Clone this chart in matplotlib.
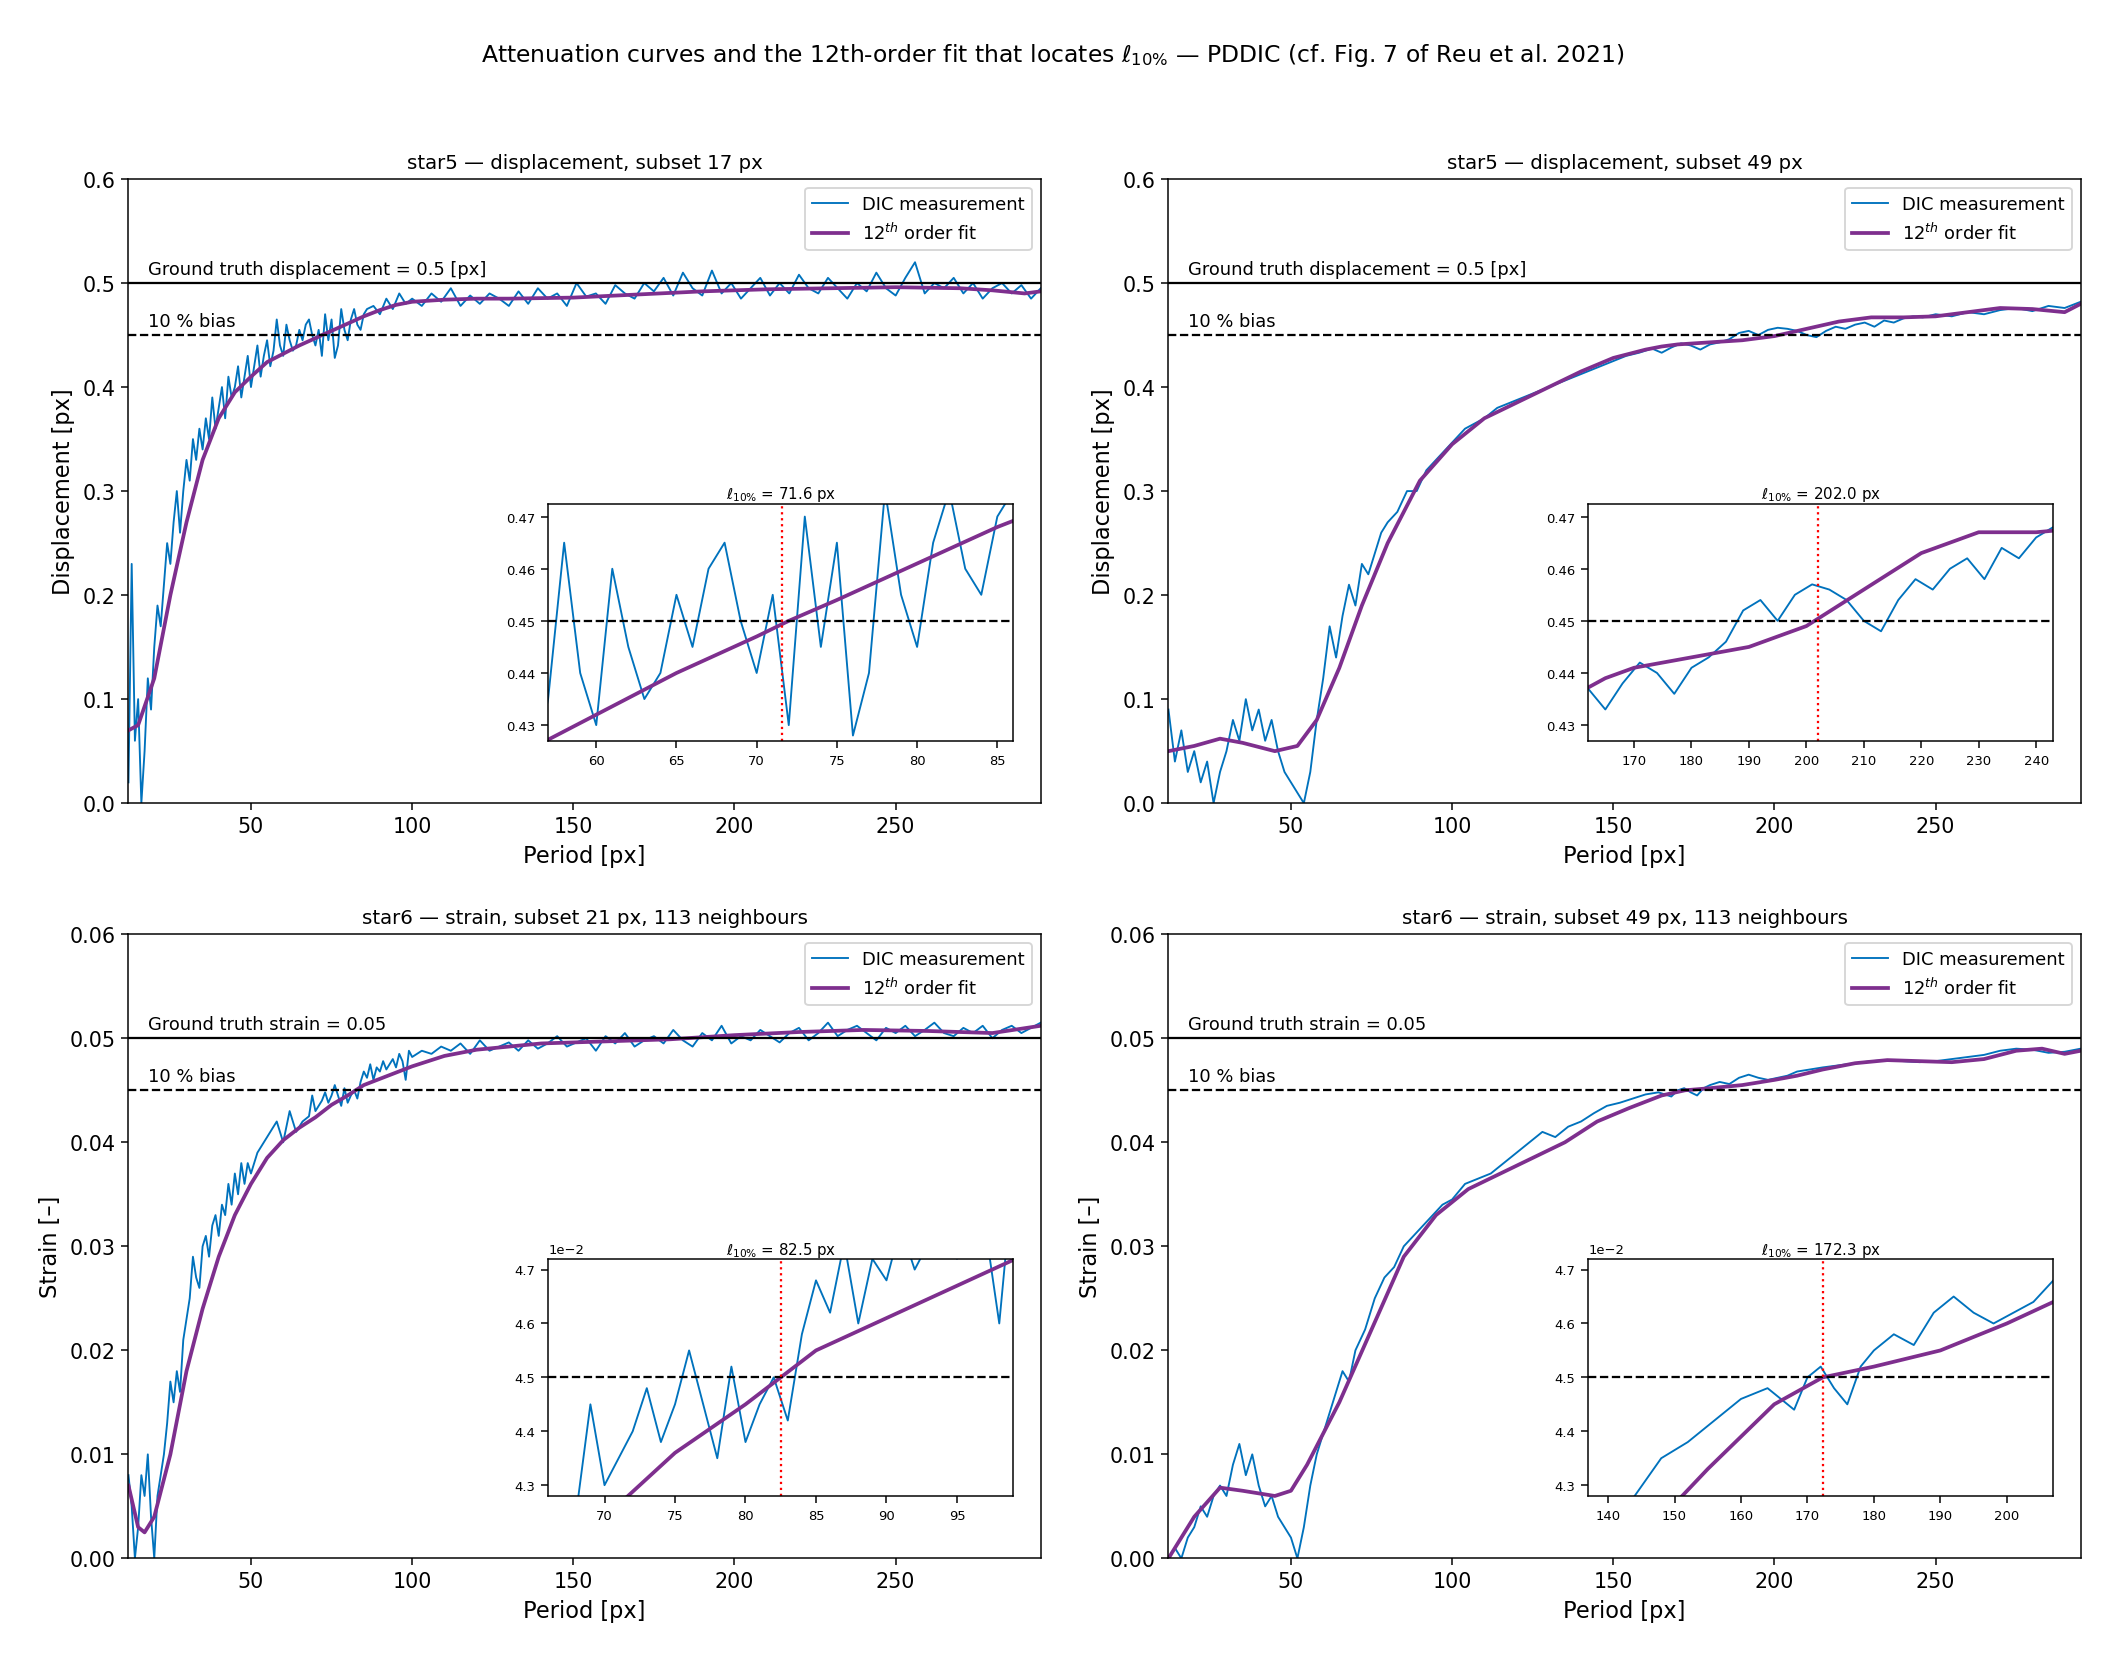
import matplotlib
matplotlib.use("Agg")
import matplotlib.pyplot as plt
import numpy as np

# ---------------- data ----------------
p1_x = [12,13,14,15,16,17,18,19,20,21,22,23,24,25,26,27,28,29,30,31,32,33,34,35,36,37,38,39,40,41,42,43,44,45,46,47,48,49,50,51,52,53,54,55,56,57,58,59,60,61,62,63,64,65,66,67,68,69,70,71,72,73,74,75,76,77,78,79,80,81,82,83,84,85,86,88,90,92,94,96,98,100,103,106,109,112,115,118,121,124,127,130,133,136,139,142,145,148,151,154,157,160,163,166,169,172,175,178,181,184,187,190,193,196,199,202,205,208,211,214,217,220,223,226,229,232,235,238,241,244,247,250,253,256,259,262,265,268,271,274,277,280,283,286,289,292,295]
p1_y = [0.02,0.23,0.06,0.10,0.00,0.05,0.12,0.09,0.15,0.19,0.17,0.21,0.25,0.23,0.27,0.30,0.26,0.30,0.33,0.31,0.35,0.33,0.36,0.34,0.37,0.35,0.39,0.36,0.38,0.40,0.37,0.41,0.39,0.40,0.42,0.39,0.41,0.43,0.40,0.42,0.44,0.41,0.43,0.445,0.42,0.435,0.465,0.44,0.43,0.46,0.445,0.435,0.44,0.455,0.445,0.46,0.465,0.45,0.44,0.455,0.43,0.47,0.445,0.465,0.428,0.44,0.475,0.455,0.445,0.465,0.475,0.46,0.455,0.47,0.475,0.478,0.47,0.485,0.475,0.49,0.48,0.485,0.478,0.49,0.482,0.495,0.478,0.488,0.48,0.49,0.485,0.478,0.492,0.48,0.495,0.485,0.49,0.478,0.5,0.487,0.49,0.48,0.498,0.49,0.485,0.5,0.492,0.505,0.488,0.51,0.495,0.488,0.512,0.49,0.5,0.485,0.495,0.505,0.488,0.5,0.49,0.508,0.495,0.49,0.505,0.495,0.485,0.5,0.492,0.51,0.495,0.488,0.505,0.52,0.49,0.5,0.495,0.505,0.49,0.5,0.485,0.495,0.5,0.49,0.498,0.485,0.495]
p1_fx = [12,15,20,25,30,35,40,45,50,55,60,65,70,72,75,80,85,90,95,100,110,120,130,150,170,190,210,230,250,270,280,290,295]
p1_fy = [0.07,0.075,0.12,0.20,0.27,0.33,0.37,0.395,0.41,0.424,0.432,0.440,0.447,0.45,0.454,0.461,0.468,0.474,0.479,0.482,0.484,0.485,0.485,0.486,0.489,0.492,0.494,0.495,0.496,0.495,0.493,0.49,0.492]

p2_x = [12,14,16,18,20,22,24,26,28,30,32,34,36,38,40,42,44,46,48,50,52,54,56,58,60,62,64,66,68,70,72,74,76,78,80,83,86,89,92,95,98,101,104,107,110,114,118,122,126,130,134,138,142,146,150,154,158,162,165,168,171,174,177,180,183,186,189,192,195,198,201,204,207,210,213,216,219,222,225,228,231,234,237,240,243,246,250,255,260,265,270,275,280,285,290,295]
p2_y = [0.09,0.04,0.07,0.03,0.05,0.02,0.04,0.0,0.03,0.05,0.08,0.06,0.10,0.07,0.09,0.06,0.08,0.05,0.03,0.02,0.01,0.0,0.03,0.08,0.12,0.17,0.14,0.18,0.21,0.19,0.23,0.22,0.24,0.26,0.27,0.28,0.30,0.30,0.32,0.33,0.34,0.35,0.36,0.365,0.37,0.38,0.385,0.39,0.395,0.40,0.405,0.41,0.415,0.42,0.425,0.43,0.433,0.437,0.433,0.438,0.442,0.440,0.436,0.441,0.443,0.446,0.452,0.454,0.450,0.455,0.457,0.456,0.454,0.450,0.448,0.454,0.458,0.456,0.460,0.462,0.458,0.464,0.462,0.466,0.468,0.467,0.470,0.468,0.472,0.470,0.474,0.476,0.473,0.478,0.476,0.482]
p2_fx = [12,20,28,35,45,52,58,65,72,80,90,100,110,120,130,140,150,160,165,170,180,190,200,210,220,230,240,250,260,270,280,290,295]
p2_fy = [0.05,0.055,0.062,0.058,0.05,0.055,0.08,0.13,0.19,0.25,0.31,0.345,0.37,0.385,0.40,0.415,0.428,0.436,0.439,0.441,0.443,0.445,0.449,0.456,0.463,0.467,0.467,0.468,0.472,0.476,0.475,0.472,0.48]

p3_x = [12,13,14,15,16,17,18,19,20,21,22,23,24,25,26,27,28,29,30,31,32,33,34,35,36,37,38,39,40,41,42,43,44,45,46,47,48,49,50,52,54,56,58,60,62,64,66,68,69,70,71,72,73,74,75,76,77,78,79,80,81,82,83,84,85,86,87,88,89,90,91,92,93,94,95,96,97,98,99,100,103,106,109,112,115,118,121,124,127,130,133,136,139,142,145,148,151,154,157,160,163,166,169,172,175,178,181,184,187,190,193,196,199,202,205,208,211,214,217,220,223,226,229,232,235,238,241,244,247,250,253,256,259,262,265,268,271,274,277,280,283,286,289,292,295]
p3_y = [0.008,0.005,0.0,0.003,0.008,0.006,0.010,0.004,0.0,0.006,0.008,0.010,0.013,0.017,0.015,0.018,0.016,0.021,0.023,0.025,0.029,0.027,0.026,0.030,0.031,0.029,0.032,0.033,0.031,0.034,0.033,0.036,0.034,0.037,0.035,0.038,0.036,0.038,0.037,0.039,0.040,0.041,0.042,0.040,0.043,0.041,0.042,0.0425,0.0445,0.043,0.0435,0.044,0.0448,0.0438,0.0445,0.0455,0.0445,0.0435,0.0452,0.0438,0.0445,0.0450,0.0442,0.0458,0.0468,0.0462,0.0475,0.046,0.0472,0.0468,0.0478,0.047,0.0475,0.048,0.0472,0.0485,0.0478,0.046,0.0488,0.0482,0.0488,0.0485,0.0492,0.0488,0.0495,0.0485,0.0498,0.0488,0.0492,0.0496,0.0488,0.0498,0.049,0.0495,0.0502,0.0492,0.0496,0.050,0.0488,0.0502,0.0495,0.0505,0.0492,0.0498,0.0502,0.0495,0.0508,0.0498,0.0492,0.0505,0.0498,0.0512,0.0495,0.0502,0.0498,0.0508,0.0502,0.0496,0.0505,0.0510,0.0498,0.0505,0.0515,0.0502,0.0508,0.0512,0.0505,0.0498,0.0510,0.0505,0.0512,0.0502,0.0508,0.0515,0.0505,0.0502,0.0510,0.0505,0.0512,0.0500,0.0508,0.0512,0.0505,0.0510,0.0515]
p3_fx = [12,15,17,20,25,30,35,40,45,50,55,60,65,70,75,80,82.5,85,90,95,100,110,120,140,160,180,200,220,240,260,280,295]
p3_fy = [0.007,0.003,0.0025,0.004,0.010,0.018,0.024,0.029,0.033,0.036,0.0385,0.0402,0.0414,0.0424,0.0436,0.0445,0.045,0.0455,0.0461,0.0467,0.0473,0.0483,0.0489,0.0495,0.0497,0.0499,0.0503,0.0506,0.0508,0.0507,0.0505,0.0512]

p4_x = [12,14,16,18,20,22,24,26,28,30,32,34,36,38,40,42,44,46,48,50,52,54,56,58,60,62,64,66,68,70,73,76,79,82,85,88,91,94,97,100,104,108,112,116,120,124,128,132,136,140,144,148,152,156,160,164,168,170,172,174,176,178,180,183,186,189,192,195,198,201,204,207,211,215,220,225,230,235,240,245,250,255,260,265,270,275,280,285,290,295]
p4_y = [0.0,0.001,0.0,0.002,0.003,0.005,0.004,0.006,0.007,0.006,0.009,0.011,0.008,0.010,0.007,0.005,0.006,0.004,0.003,0.002,0.0,0.003,0.007,0.010,0.012,0.014,0.016,0.018,0.017,0.020,0.022,0.025,0.027,0.028,0.030,0.031,0.032,0.033,0.034,0.0345,0.036,0.0365,0.037,0.038,0.039,0.040,0.041,0.0405,0.0415,0.042,0.0428,0.0435,0.0438,0.0442,0.0446,0.0448,0.0444,0.0450,0.0452,0.0448,0.0445,0.0452,0.0455,0.0458,0.0456,0.0462,0.0465,0.0462,0.0460,0.0462,0.0464,0.0468,0.0470,0.0472,0.0474,0.0476,0.0478,0.0479,0.0478,0.0477,0.0478,0.0480,0.0482,0.0484,0.0488,0.0490,0.0489,0.0486,0.0487,0.0490]
p4_fx = [12,20,28,35,45,50,55,65,75,85,95,105,115,125,135,145,155,165,172.3,180,190,200,207,215,225,235,245,255,265,275,283,290,295]
p4_fy = [0.0,0.004,0.0068,0.0065,0.006,0.0065,0.009,0.015,0.022,0.029,0.033,0.0355,0.037,0.0385,0.040,0.042,0.0433,0.0445,0.045,0.0452,0.0455,0.046,0.0464,0.047,0.0476,0.0479,0.0478,0.0477,0.048,0.0488,0.049,0.0485,0.0488]

titles = ["star5 — displacement, subset 17 px", "star5 — displacement, subset 49 px",
          "star6 — strain, subset 21 px, 113 neighbours", "star6 — strain, subset 49 px, 113 neighbours"]
l10 = [71.6, 202.0, 82.5, 172.3]
inset_xlim = [(57, 86), (162, 243), (66, 99), (137, 207)]

DIC_C = "#0072BD"
FIT_C = "#7E2F8E"

fig, axes = plt.subplots(2, 2, figsize=(15.6, 12.34), dpi=135)
fig.suptitle(r"Attenuation curves and the 12th-order fit that locates $\ell_{10\%}$ — PDDIC (cf. Fig. 7 of Reu et al. 2021)",
             fontsize=12.5, y=0.975)
fig.subplots_adjust(left=0.061, right=0.988, top=0.892, bottom=0.064, hspace=0.21, wspace=0.14)

data = [(p1_x, p1_y, p1_fx, p1_fy), (p2_x, p2_y, p2_fx, p2_fy),
        (p3_x, p3_y, p3_fx, p3_fy), (p4_x, p4_y, p4_fx, p4_fy)]

for i, ax in enumerate(axes.flat):
    x, y, fx, fy = data[i]
    strain = i >= 2
    gt = 0.05 if strain else 0.5
    ax.plot(x, y, color=DIC_C, lw=1, label="DIC measurement")
    ax.plot(fx, fy, color=FIT_C, lw=2, label=r"12$^{th}$ order fit")
    ax.axhline(gt, color="black", lw=1.2)
    ax.axhline(0.9 * gt, color="black", lw=1.2, ls="--")
    ax.set_xlim(12, 295)
    ax.set_ylim(0, 0.06 if strain else 0.6)
    ax.text(18, gt * 1.01, "Ground truth strain = 0.05" if strain else "Ground truth displacement = 0.5 [px]",
            fontsize=9.5, va="bottom")
    ax.text(18, 0.9 * gt * 1.01, "10 % bias", fontsize=9.5, va="bottom")
    ax.set_title(titles[i], fontsize=10.5)
    ax.set_xlabel("Period [px]", fontsize=12)
    ax.set_ylabel("Strain [–]" if strain else "Displacement [px]", fontsize=12)
    ax.tick_params(labelsize=11)
    ax.legend(loc="upper right", fontsize=9.5)

    ins = ax.inset_axes([0.46, 0.1, 0.51, 0.38])
    ins.plot(x, y, color=DIC_C, lw=1)
    ins.plot(fx, fy, color=FIT_C, lw=2)
    ins.axhline(0.9 * gt, color="black", lw=1.2, ls="--")
    ins.axvline(l10[i], color="red", lw=1.2, ls=":")
    ins.set_xlim(*inset_xlim[i])
    if strain:
        ins.set_ylim(0.0428, 0.0472)
        ins.set_yticks([0.043, 0.044, 0.045, 0.046, 0.047])
        ins.ticklabel_format(axis="y", style="sci", scilimits=(-2, -2))
        ins.yaxis.get_offset_text().set_fontsize(7)
    else:
        ins.set_ylim(0.427, 0.4725)
        ins.set_yticks([0.43, 0.44, 0.45, 0.46, 0.47])
    ins.tick_params(labelsize=7)
    ins.set_title(r"$\ell_{10\%}$ = " + f"{l10[i]:.1f} px", fontsize=8, pad=2)

fig.savefig("out.png")
